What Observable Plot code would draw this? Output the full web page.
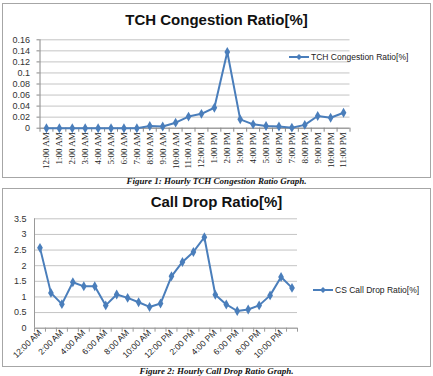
<!DOCTYPE html>
<html>
<head>
<meta charset="utf-8">
<script src="https://cdn.jsdelivr.net/npm/d3@7"></script>
<script src="https://cdn.jsdelivr.net/npm/@observablehq/plot@0.6"></script>
<style>
  html, body { margin: 0; padding: 0; background: #fff; }
  #root { position: relative; width: 433px; height: 376px; overflow: hidden; font-family: "Liberation Sans", Arial, sans-serif; }
  .frame { position: absolute; border: 1.5px solid #a6a6a6; box-sizing: border-box; }
  .title { position: absolute; left: 0; width: 433px; text-align: center; font-weight: bold; font-size: 15px; color: #111; }
  .caption { position: absolute; left: 0; width: 433px; text-align: center; font-family: "Liberation Serif", "Times New Roman", serif; font-style: italic; font-weight: bold; font-size: 9px; color: #111; }
  .legend { position: absolute; }
  .plot { position: absolute; left: 0; }
</style>
</head>
<body>
<div id="root"></div>
<script>
// ---- data ----
const hours = ["12:00 AM","1:00 AM","2:00 AM","3:00 AM","4:00 AM","5:00 AM","6:00 AM","7:00 AM","8:00 AM","9:00 AM","10:00 AM","11:00 AM",
               "12:00 PM","1:00 PM","2:00 PM","3:00 PM","4:00 PM","5:00 PM","6:00 PM","7:00 PM","8:00 PM","9:00 PM","10:00 PM","11:00 PM"];
const tchValues = [0,0,0,0,0,0,0,0,0.004,0.003,0.010,0.021,0.026,0.037,0.138,0.016,0.007,0.004,0.003,0.001,0.006,0.022,0.019,0.028];
const dropValues = [2.57,1.13,0.77,1.47,1.34,1.34,0.73,1.08,0.97,0.83,0.68,0.79,1.66,2.12,2.44,2.91,1.07,0.76,0.55,0.60,0.73,1.05,1.64,1.29];
const tchYTicks = [0,0.02,0.04,0.06,0.08,0.1,0.12,0.14,0.16];
const dropYTicks = [0,0.5,1,1.5,2,2.5,3,3.5];
const dropXLabelIdx = [0,2,4,6,8,10,12,14,16,18,20,22];
const tchTitle = "TCH Congestion Ratio[%]";
const dropTitle = "Call Drop Ratio[%]";
const tchLegend = "TCH Congestion Ratio[%]";
const dropLegend = "CS Call Drop Ratio[%]";
const caption1 = "Figure 1: Hourly TCH Congestion Ratio Graph.";
const caption2 = "Figure 2: Hourly Call Drop Ratio Graph.";

const blue = "#4a7ebb";
const root = document.getElementById("root");
const boundaries = d3.range(-0.5, 24, 1);

function add(el, css) { Object.assign(el.style, css); root.appendChild(el); return el; }
function div(cls, text, css) { const d = document.createElement("div"); d.className = cls; if (text) d.textContent = text; return add(d, css); }

function legend(label, x, y) {
  const l = document.createElement("div");
  l.className = "legend";
  l.innerHTML = `<svg width="22" height="10" style="vertical-align:middle"><line x1="0" y1="5" x2="20" y2="5" stroke="${blue}" stroke-width="2"/><path d="M10,2 L13,5 L10,8 L7,5 Z" fill="${blue}"/></svg><span style="font-size:8.5px;color:#222;vertical-align:middle;margin-left:0px">${label}</span>`;
  add(l, {left: x + "px", top: y + "px", whiteSpace: "nowrap", lineHeight: "10px"});
}

// frames
div("frame", null, {left: "2px", top: "3px", width: "429px", height: "175px"});
div("frame", null, {left: "2px", top: "188px", width: "429px", height: "179px"});

// ---- Chart 1 ----
const tchData = hours.map((h, i) => ({hour: h, i, value: tchValues[i]}));
const p1 = Plot.plot({
  width: 433, height: 180,
  marginLeft: 39.5, marginRight: 83.5, marginTop: 39.3, marginBottom: 52.3,
  style: {background: "transparent", overflow: "visible"},
  x: {domain: [-0.5, 23.5], axis: null},
  y: {domain: [0, 0.16], axis: null},
  marks: [
    Plot.gridY(tchYTicks, {stroke: "#c4c4c4", strokeOpacity: 1}),
    Plot.axisY({ticks: tchYTicks, tickFormat: d => String(d), tickSize: 3, tickPadding: 7, stroke: "#888", fontSize: 9, fill: "#333", fontFamily: "Liberation Sans, Arial, sans-serif", label: null}),
    Plot.ruleX([-0.5], {stroke: "#888"}),
    Plot.ruleY([0], {stroke: "#888"}),
    Plot.axisX({ticks: boundaries, tickSize: 4, tickFormat: () => "", stroke: "#888", label: null}),
    Plot.axisX({ticks: d3.range(24), tickSize: 0, tickPadding: 4, tickRotate: -90, tickFormat: i => hours[i], fontSize: 9, fill: "#222", fontFamily: "Liberation Serif, Times New Roman, serif", label: null}),
    Plot.line(tchData, {x: "i", y: "value", stroke: blue, strokeWidth: 2}),
    Plot.dot(tchData, {x: "i", y: "value", symbol: "diamond", fill: blue, r: 3})
  ]
});
p1.classList.add("plot");
add(p1, {top: "0px"});
div("title", tchTitle, {top: "11px"});
legend(tchLegend, 289, 51);
div("caption", caption1, {top: "176px"});

// ---- Chart 2 ----
const dropData = hours.map((h, i) => ({hour: h, i, value: dropValues[i]}));
const p2 = Plot.plot({
  width: 433, height: 185,
  marginLeft: 34, marginRight: 136, marginTop: 33.3, marginBottom: 42.3,
  style: {background: "transparent", overflow: "visible"},
  x: {domain: [-0.5, 23.5], axis: null},
  y: {domain: [0, 3.5], axis: null},
  marks: [
    Plot.gridY(dropYTicks, {stroke: "#c4c4c4", strokeOpacity: 1}),
    Plot.axisY({ticks: dropYTicks, tickFormat: d => String(d), tickSize: 0, tickPadding: 8, fontSize: 9, fill: "#333", fontFamily: "Liberation Sans, Arial, sans-serif", label: null}),
    Plot.ruleX([-0.5], {stroke: "#999"}),
    Plot.ruleY([0], {stroke: "#999"}),
    Plot.axisX({ticks: boundaries, tickSize: 4, tickFormat: () => "", stroke: "#999", label: null}),
    Plot.axisX({ticks: dropXLabelIdx, tickSize: 0, tickPadding: 3, tickRotate: -45, tickFormat: i => hours[i], fontSize: 8.5, fill: "#222", fontFamily: "Liberation Sans, Arial, sans-serif", label: null}),
    Plot.line(dropData, {x: "i", y: "value", stroke: blue, strokeWidth: 2}),
    Plot.dot(dropData, {x: "i", y: "value", symbol: "diamond", fill: blue, r: 3})
  ]
});
p2.classList.add("plot");
add(p2, {top: "185px"});
div("title", dropTitle, {top: "193px"});
legend(dropLegend, 313, 284);
div("caption", caption2, {top: "366px"});
</script>
</body>
</html>
